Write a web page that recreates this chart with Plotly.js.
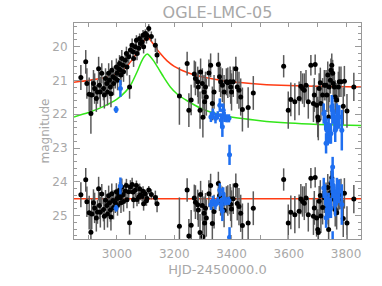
<!DOCTYPE html>
<html><head><meta charset="utf-8">
<script src="https://cdn.plot.ly/plotly-3.0.1.min.js"></script>
<style>html,body{margin:0;padding:0;background:#fff;}#plot{width:382px;height:286px;}</style>
</head><body><div id="plot"></div>
<script>
// Black (OGLE I-band) observations: time, magnitude, error, residual
const blackT = [2874,2891,2895,2903,2909,2912,2918,2922,2928,2932,2936,2939,2942,2947,2953,2956,2960,2965,2967,2971,2974,2977,2979,2982,2986,2988,2994,2998,3000,3002,3006,3009,3012,3014,3017,3021,3023,3029,3033,3035,3041,3044,3047,3053,3056,3058,3064,3068,3070,3076,3079,3082,3088,3091,3093,3099,3103,3105,3111,3120,3134,3140,
3218,3245,3251,3259,3270,3274,3282,3284,3290,3292,3298,3300,3304,3306,3309,3312,3321,3327,3333,3339,3354,3358,3362,3368,3374,3382,3387,3395,3397,3400,3406,3415,3420,3426,3432,3438,3458,3476,
3582,3598,3607,3621,3636,3642,3648,3654,3660,3668,3677,3686,3689,3692,3697,3701,3703,3706,3710,3712,3718,3724,3730,3733,3736,3739,3741,3745,3747,3750,3753,3755,3759,3762,3767,3773,3776,3782,3790,3794,3803,3827];
const blackMag = [20.91,20.45,21.09,21.41,21.98,21.43,21.09,21.24,21.53,21.34,20.65,21.14,21.34,20.79,21.24,21.43,20.94,21.09,21.34,20.79,20.99,21.19,21.39,20.70,20.89,21.09,20.94,20.60,20.79,20.99,20.65,20.50,20.70,20.84,20.35,20.55,20.74,20.40,20.20,20.60,20.30,21.19,20.10,19.96,20.15,20.35,20.00,19.81,20.20,20.05,19.76,19.91,19.86,19.66,20.00,19.61,19.76,19.66,19.46,19.70,19.96,20.25,
21.46,20.50,21.88,21.58,20.81,20.94,21.04,21.19,21.88,20.75,21.09,22.09,21.34,21.63,21.19,21.49,20.78,20.55,21.68,21.34,20.53,20.89,21.04,21.14,21.34,21.04,21.07,21.04,21.19,21.34,21.04,20.65,21.19,21.29,21.49,21.86,21.80,21.37,
20.58,21.88,21.56,21.63,21.53,21.17,21.24,21.29,21.14,21.63,20.55,21.68,21.43,20.53,21.73,22.08,22.17,21.24,21.07,21.68,21.43,21.14,21.14,21.43,20.84,22.08,21.19,20.99,20.70,20.55,20.79,21.09,21.19,21.49,21.58,21.19,21.04,21.04,21.76,21.02,21.90,21.19];
const blackErr = [0.37,0.35,0.45,0.5,0.6,0.45,0.4,0.45,0.4,0.35,0.35,0.4,0.45,0.3,0.35,0.4,0.3,0.35,0.4,0.3,0.3,0.35,0.4,0.3,0.3,0.35,0.3,0.25,0.3,0.3,0.25,0.25,0.25,0.3,0.25,0.25,0.3,0.25,0.2,0.25,0.2,0.35,0.2,0.2,0.2,0.25,0.2,0.15,0.2,0.2,0.15,0.15,0.15,0.15,0.2,0.12,0.15,0.12,0.12,0.15,0.2,0.25,
0.85,0.35,0.5,0.45,0.4,0.5,0.45,0.5,0.55,0.4,0.45,0.6,0.5,0.5,0.45,0.55,0.4,0.35,0.5,0.5,0.35,0.45,0.45,0.5,0.5,0.4,0.45,0.45,0.5,0.55,0.45,0.35,0.5,0.55,0.55,0.65,0.6,0.5,
0.33,0.55,0.5,0.55,0.5,0.45,0.45,0.5,0.45,0.5,0.3,0.55,0.5,0.3,0.55,0.6,0.6,0.45,0.45,0.5,0.5,0.45,0.45,0.5,0.4,0.6,0.45,0.4,0.35,0.35,0.4,0.45,0.45,0.5,0.5,0.45,0.45,0.45,0.55,0.45,0.5,0.42];
const blackRes = [24.38,23.94,24.59,24.91,25.49,24.95,24.62,24.77,25.07,24.89,24.2,24.7,24.9,24.36,24.82,25.02,24.54,24.7,24.95,24.41,24.62,24.83,25.04,24.35,24.55,24.76,24.62,24.29,24.49,24.7,24.39,24.25,24.47,24.62,24.15,24.38,24.58,24.27,24.11,24.53,24.29,25.21,24.15,24.08,24.3,24.53,24.25,24.11,24.52,24.45,24.2,24.39,24.43,24.28,24.65,24.35,24.56,24.49,24.24,24.37,24.46,24.65,
25.31,24.24,25.6,25.28,24.48,24.6,24.68,24.83,25.5,24.37,24.7,25.62,24.93,25.22,24.78,25.07,24.35,24.11,25.23,24.88,24.05,24.41,24.55,24.64,24.84,24.53,24.55,24.51,24.66,24.8,24.5,24.1,24.64,24.73,24.93,25.29,25.22,24.78,
23.93,25.22,24.9,24.97,24.87,24.51,24.58,24.63,24.48,24.97,23.89,25.02,24.77,23.87,25.07,25.41,25.5,24.57,24.4,25.01,24.76,24.47,24.47,24.76,24.17,25.41,24.52,24.32,24.03,23.88,24.12,24.42,24.52,24.82,24.91,24.52,24.37,24.36,25.08,24.34,25.22,24.51];

// Blue (second band) observations
const blueT = [2997,3012,3328,3335,3344,3352,3359,3364,3368,3371,3376,3383,3391,3393,3722,3727,3730,3733,3736,3739,3744,3747,3750,3752,3755,3759,3762,3768,3776,3785,3753];
const blueMag = [21.86,21.24,22.08,21.98,22.12,22.03,21.73,22.17,22.37,21.88,22.08,22.12,22.12,23.2,21.98,22.17,22.86,22.47,22.62,22.37,22.57,22.57,21.78,21.88,21.98,22.17,22.47,22.08,22.08,22.47,23.56];
const blueErr = [0.1,0.25,0.15,0.15,0.15,0.12,0.2,0.2,0.3,0.2,0.15,0.12,0.12,0.3,0.3,0.3,0.3,0.25,0.3,0.25,0.3,0.3,0.35,0.4,0.3,0.3,0.35,0.4,0.35,0.6,0.3];
const blueRes = [24.78,24.12,24.68,24.56,24.67,24.56,24.24,24.67,24.86,24.36,24.55,24.57,24.56,25.64,24.18,24.37,25.06,24.67,24.82,24.57,24.77,24.77,23.98,24.08,24.18,24.37,24.67,24.28,24.28,24.67,25.76];

// Model curves
const redT = [2850,2900,2950,3000,3030,3050,3070,3085,3095,3106,3115,3130,3150,3175,3200,3250,3300,3400,3500,3600,3700,3852];
const redMag = [21.05,21.0,20.93,20.8,20.62,20.42,20.18,19.98,19.82,19.65,19.78,19.96,20.19,20.42,20.58,20.78,20.9,21.04,21.11,21.15,21.17,21.19];
const greenT = [2850,2900,2950,3000,3030,3050,3070,3085,3095,3106,3115,3128,3145,3163,3187,3210,3245,3300,3386,3500,3600,3700,3852];
const greenMag = [22.08,21.95,21.78,21.55,21.33,21.1,20.75,20.45,20.3,20.22,20.28,20.42,20.65,20.9,21.2,21.4,21.6,21.85,22.06,22.19,22.26,22.3,22.33];
const resLineT = [2850,3852];
const resLineMag = [24.5,24.5];

const gray = '#a8a8a8';
const fnt = 'DejaVu Sans';
const blackColor = '#000000', barColor = '#5a5a5a', blueColor = '#1f6ff0';
const redColor = '#ff3c14', greenColor = '#33e61a';

const traces = [
  {x: redT, y: redMag, mode:'lines', line:{color:redColor, width:1.5, shape:'spline', smoothing:0.6}, hoverinfo:'skip'},
  {x: greenT, y: greenMag, mode:'lines', line:{color:greenColor, width:1.5, shape:'spline', smoothing:0.6}, hoverinfo:'skip'},
  {x: resLineT, y: resLineMag, mode:'lines', line:{color:redColor, width:1.5}, hoverinfo:'skip'},
  {x: blackT, y: blackMag, mode:'markers', marker:{color:blackColor, size:5},
   error_y:{type:'data', array: blackErr, color:barColor, thickness:1.5, width:0}},
  {x: blackT, y: blackRes, mode:'markers', marker:{color:blackColor, size:5},
   error_y:{type:'data', array: blackErr, color:barColor, thickness:1.5, width:0}},
  {x: blueT, y: blueMag, mode:'markers', marker:{color:blueColor, size:5},
   error_y:{type:'data', array: blueErr, color:blueColor, thickness:2.5, width:0}},
  {x: blueT, y: blueRes, mode:'markers', marker:{color:blueColor, size:5},
   error_y:{type:'data', array: blueErr, color:blueColor, thickness:2.5, width:0}}
];

const layout = {
  width:382, height:286,
  margin:{l:74, r:21, t:23, b:47, pad:0},
  paper_bgcolor:'#ffffff', plot_bgcolor:'#ffffff',
  showlegend:false,
  title:{text:'OGLE-LMC-05', font:{family:fnt, size:16, color:gray}, xref:'paper', x:0.5, xanchor:'center', yref:'container', y:0.958, yanchor:'middle'},
  xaxis:{range:[2850,3852], tick0:3000, dtick:100, ticklabelstep:2, ticks:'inside', ticklen:4, tickcolor:'#999',
    showline:true, linecolor:'#999', linewidth:1, mirror:'allticks', showgrid:false, zeroline:false,
    tickfont:{family:fnt, size:12, color:gray}, ticklabelstandoff:4,
    title:{text:'HJD-2450000.0', font:{family:fnt, size:13, color:gray}, standoff:4}},
  yaxis:{range:[25.69,19.30], tick0:20, dtick:1, ticks:'inside', ticklen:6, tickcolor:'#999',
    minor:{dtick:0.2, ticklen:3, tickcolor:'#999', ticks:'inside', showgrid:false},
    showline:true, linecolor:'#999', linewidth:1, mirror:'allticks', showgrid:false, zeroline:false,
    tickfont:{family:fnt, size:12, color:gray}, ticklabelstandoff:3,
    title:{text:'magnitude', font:{family:fnt, size:12, color:gray}, standoff:0}}
};

Plotly.newPlot('plot', traces, layout, {displayModeBar:false, staticPlot:true});
</script></body></html>
